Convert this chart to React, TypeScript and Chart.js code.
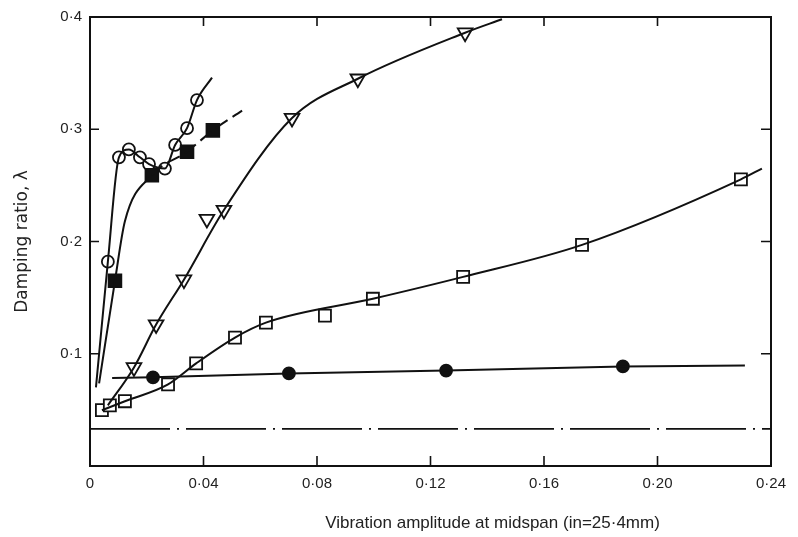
import React, { useEffect, useRef } from "react";
import { Chart, registerables } from "chart.js";

Chart.register(...registerables);

// Open circles
const openCircleX = [0.0063, 0.0102, 0.0137, 0.0176, 0.0208, 0.0264, 0.030, 0.0342, 0.0377];
const openCircleY = [0.182, 0.275, 0.282, 0.275, 0.269, 0.265, 0.286, 0.301, 0.326];
const openCircleCurveX = [0.0021, 0.0063, 0.0102, 0.0137, 0.0176, 0.0208, 0.0264, 0.030, 0.0342, 0.0377, 0.043];
const openCircleCurveY = [0.070, 0.182, 0.275, 0.282, 0.275, 0.269, 0.265, 0.286, 0.301, 0.326, 0.346];

// Filled squares
const filledSquareX = [0.0088, 0.0218, 0.0342, 0.0433];
const filledSquareY = [0.165, 0.259, 0.280, 0.299];
const filledSquareCurveX = [0.0032, 0.0088, 0.0123, 0.0218, 0.0342, 0.0433, 0.0536];
const filledSquareCurveY = [0.0736, 0.165, 0.218, 0.259, 0.280, 0.299, 0.3166];

// Open triangles (pointing down)
const triangleX = [0.0155, 0.0233, 0.0331, 0.0412, 0.0472, 0.0712, 0.0944, 0.1322];
const triangleY = [0.0878, 0.126, 0.166, 0.220, 0.228, 0.310, 0.345, 0.386];
const triangleCurveX = [0.0063, 0.0155, 0.0233, 0.0331, 0.0472, 0.0712, 0.0944, 0.1322, 0.1452];
const triangleCurveY = [0.054, 0.0878, 0.126, 0.166, 0.228, 0.310, 0.345, 0.386, 0.398];

// Open squares
const openSquareX = [0.0042, 0.0070, 0.0123, 0.0275, 0.0374, 0.0511, 0.062, 0.0828, 0.0997, 0.1315, 0.1734, 0.2294];
const openSquareY = [0.0497, 0.054, 0.0577, 0.0727, 0.0914, 0.1144, 0.1277, 0.134, 0.149, 0.1685, 0.197, 0.2554];
const openSquareCurveX = [0.0042, 0.0123, 0.0275, 0.0374, 0.0511, 0.062, 0.0997, 0.1315, 0.1734, 0.2294, 0.2368];
const openSquareCurveY = [0.0497, 0.0577, 0.0727, 0.0914, 0.1144, 0.1277, 0.149, 0.1685, 0.197, 0.2554, 0.265];

// Filled circles
const filledCircleX = [0.0222, 0.0701, 0.1255, 0.1878];
const filledCircleY = [0.079, 0.0825, 0.085, 0.0887];
const filledCircleCurveX = [0.0078, 0.0222, 0.0701, 0.1255, 0.1878, 0.2308];
const filledCircleCurveY = [0.0785, 0.079, 0.0825, 0.085, 0.0887, 0.0896];

// Dash-dot reference line
const refLineX = [0, 0.24];
const refLineY = [0.033, 0.033];

const xTicks = [0, 0.04, 0.08, 0.12, 0.16, 0.2, 0.24];
const yTicks = [0, 0.1, 0.2, 0.3, 0.4];
const xTitle = "Vibration amplitude at midspan (in=25·4mm)";
const yTitle = "Damping ratio, λ";

const pts = (xs: number[], ys: number[]) => xs.map((x, i) => ({ x, y: ys[i] }));
const fmtX = (v: number) => (Math.abs(v) < 1e-9 ? "0" : v.toFixed(2).replace(".", "·"));
const fmtY = (v: number) => (Math.abs(v) < 1e-9 ? "" : v.toFixed(1).replace(".", "·"));

const FONT = "'Liberation Sans', 'DejaVu Sans', sans-serif";

const boxPlugin = {
  id: "boxTicks",
  afterDraw(chart: any) {
    const { ctx, chartArea: a, scales } = chart;
    ctx.save();
    ctx.strokeStyle = "#111";
    ctx.lineWidth = 2;
    ctx.strokeRect(a.left, a.top, a.right - a.left, a.bottom - a.top);
    ctx.lineWidth = 1.6;
    ctx.beginPath();
    for (const v of xTicks) {
      if (v <= 0 || v >= 0.24) continue;
      const px = scales.x.getPixelForValue(v);
      ctx.moveTo(px, a.bottom);
      ctx.lineTo(px, a.bottom - 10);
      ctx.moveTo(px, a.top);
      ctx.lineTo(px, a.top + 9);
    }
    for (const v of yTicks) {
      if (v <= 0 || v >= 0.4) continue;
      const py = scales.y.getPixelForValue(v);
      ctx.moveTo(a.left, py);
      ctx.lineTo(a.left + 9, py);
      ctx.moveTo(a.right, py);
      ctx.lineTo(a.right - 10, py);
    }
    ctx.stroke();
    // x-axis title (offset to the right, as in the original figure)
    ctx.fillStyle = "#222";
    ctx.font = `17px ${FONT}`;
    ctx.textAlign = "center";
    ctx.textBaseline = "middle";
    ctx.fillText(xTitle, (a.left + a.right) / 2 + 62, a.bottom + 57);
    ctx.restore();
  },
};

export default function App() {
  const ref = useRef<HTMLCanvasElement | null>(null);
  useEffect(() => {
    if (!ref.current) return;
    const curve = (xs: number[], ys: number[], extra: any = {}) => ({
      data: pts(xs, ys),
      borderColor: "#111",
      borderWidth: 2,
      pointRadius: 0,
      showLine: true,
      fill: false,
      cubicInterpolationMode: "monotone",
      ...extra,
    });
    const marks = (xs: number[], ys: number[], style: string, filled: boolean, radius: number, rotation = 0) => ({
      data: pts(xs, ys),
      showLine: false,
      pointStyle: style,
      pointRadius: radius,
      pointRotation: rotation,
      pointBackgroundColor: filled ? "#111" : "#fff",
      pointBorderColor: "#111",
      pointBorderWidth: 1.8,
      borderColor: "#111",
    });
    const chart = new Chart(ref.current, {
      type: "line",
      data: {
        datasets: [
          curve(refLineX, refLineY, { borderWidth: 1.8, borderDash: [80, 7, 2, 7], cubicInterpolationMode: "default", tension: 0 }),
          curve(openCircleCurveX, openCircleCurveY),
          curve(filledSquareCurveX, filledSquareCurveY, {
            segment: { borderDash: (c: any) => (c.p0DataIndex >= 3 ? [14, 6] : undefined) },
          }),
          curve(triangleCurveX, triangleCurveY),
          curve(openSquareCurveX, openSquareCurveY),
          curve(filledCircleCurveX, filledCircleCurveY, { cubicInterpolationMode: "default", tension: 0 }),
          marks(openSquareX, openSquareY, "rect", false, 8.5),
          marks(filledCircleX, filledCircleY, "circle", true, 6),
          marks(triangleX, triangleY, "triangle", false, 8.5, 180),
          marks(filledSquareX, filledSquareY, "rect", true, 9),
          marks(openCircleX, openCircleY, "circle", false, 6),
        ] as any,
      },
      options: {
        animation: false,
        responsive: false,
        layout: { padding: { top: 15, right: 27, left: 0, bottom: 0 } },
        plugins: { legend: { display: false }, tooltip: { enabled: false } },
        scales: {
          x: {
            type: "linear",
            min: 0,
            max: 0.24,
            afterFit: (s: any) => { s.height = 71; },
            afterBuildTicks: (s: any) => { s.ticks = xTicks.map((v) => ({ value: v })); },
            grid: { display: false, drawTicks: false },
            border: { display: false },
            ticks: { padding: 9, color: "#222", font: { family: FONT, size: 15 }, callback: (v: any) => fmtX(Number(v)), maxRotation: 0 },
            title: { display: false, text: xTitle },
          },
          y: {
            type: "linear",
            min: 0,
            max: 0.4,
            afterFit: (s: any) => { s.width = 90; },
            afterBuildTicks: (s: any) => { s.ticks = yTicks.map((v) => ({ value: v })); },
            grid: { display: false, drawTicks: false },
            border: { display: false },
            ticks: { padding: 8, color: "#222", font: { family: FONT, size: 15 }, callback: (v: any) => fmtY(Number(v)) },
            title: {
              display: true,
              text: yTitle,
              color: "#222",
              font: { family: "'DejaVu Sans', sans-serif", size: 17 },
              padding: { top: 12, bottom: 0 },
            },
          },
        },
      } as any,
      plugins: [boxPlugin],
    });
    return () => chart.destroy();
  }, []);
  return (
    <div style={{ position: "absolute", left: 0, top: 0, width: 798, height: 537, background: "#fff" }}>
      <canvas ref={ref} width={798} height={537} />
    </div>
  );
}
